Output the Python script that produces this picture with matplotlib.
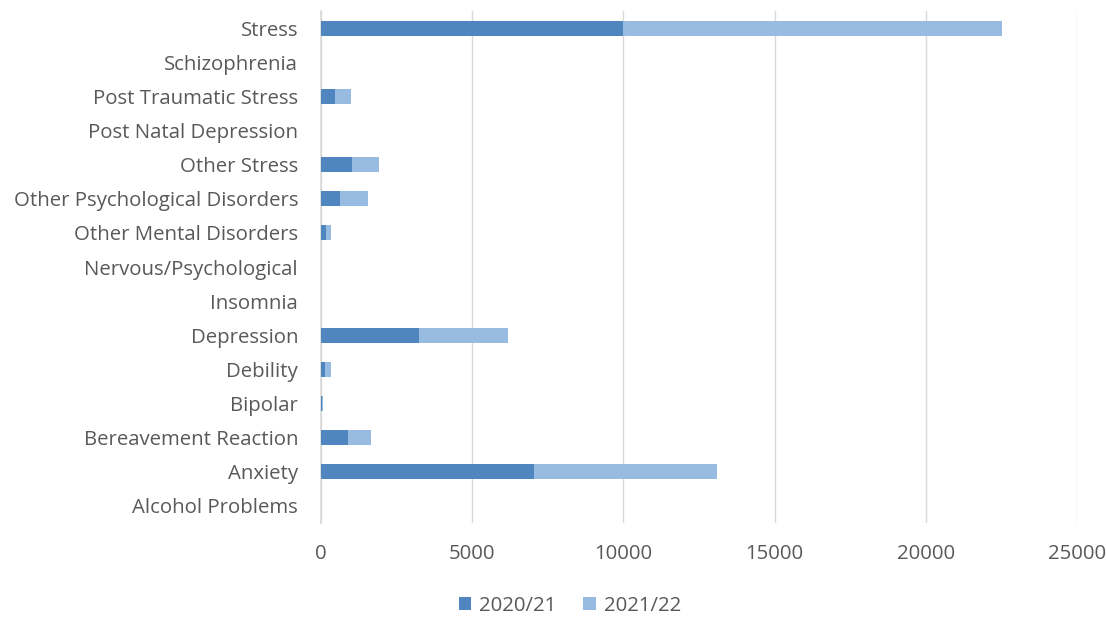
import matplotlib
matplotlib.use("Agg")
import matplotlib.pyplot as plt
import numpy as np

categories = ["Alcohol Problems", "Anxiety", "Bereavement Reaction", "Bipolar", "Debility",
              "Depression", "Insomnia", "Nervous/Psychological", "Other Mental Disorders",
              "Other Psychological Disorders", "Other Stress", "Post Natal Depression",
              "Post Traumatic Stress", "Schizophrenia", "Stress"]
y2020 = [0, 7040, 900, 30, 130, 3240, 0, 0, 180, 630, 1010, 0, 460, 0, 9990]
y2021 = [0, 6060, 750, 40, 210, 2940, 0, 0, 160, 910, 910, 0, 530, 0, 12530]
xticks = [0, 5000, 10000, 15000, 20000, 25000]
series_names = ["2020/21", "2021/22"]

plt.rcParams['font.family'] = ['Open Sans', 'DejaVu Sans']
fig = plt.figure(figsize=(11.06, 6.17), dpi=100)
ax = fig.add_axes([321/1106, 1 - 523/617, (1077-321)/1106, (523-11)/617])

c1, c2 = '#4f86bf', '#98bbe2'
ypos = np.arange(len(categories))
ax.barh(ypos, y2020, height=0.44, color=c1, label=series_names[0], zorder=3)
ax.barh(ypos, y2021, left=y2020, height=0.44, color=c2, label=series_names[1], zorder=3)

ax.set_xlim(0, 25000)
ax.set_ylim(-0.5, len(categories) - 0.5)
ax.set_xticks(xticks)
ax.set_xticklabels([str(t) for t in xticks])
ax.set_yticks(ypos)
ax.set_yticklabels(categories)
ax.tick_params(axis='both', length=0, labelsize=14.7, colors='#595959')
ax.tick_params(axis='x', pad=15)
ax.tick_params(axis='y', pad=16.5)
ax.grid(axis='x', color='#d9d9d9', linewidth=1, zorder=0)
for s in ['top', 'right', 'bottom']:
    ax.spines[s].set_visible(False)
ax.spines['left'].set_color('#d9d9d9')
ax.spines['left'].set_linewidth(1.2)

leg = fig.legend(loc='center', bbox_to_anchor=(570/1106, 1 - 606/617), ncol=2, frameon=False,
                 fontsize=14.7, handlelength=0.6, handleheight=0.6, columnspacing=1.3,
                 handletextpad=0.4)
for t in leg.get_texts():
    t.set_color('#595959')

fig.savefig('out.png', dpi=100)
